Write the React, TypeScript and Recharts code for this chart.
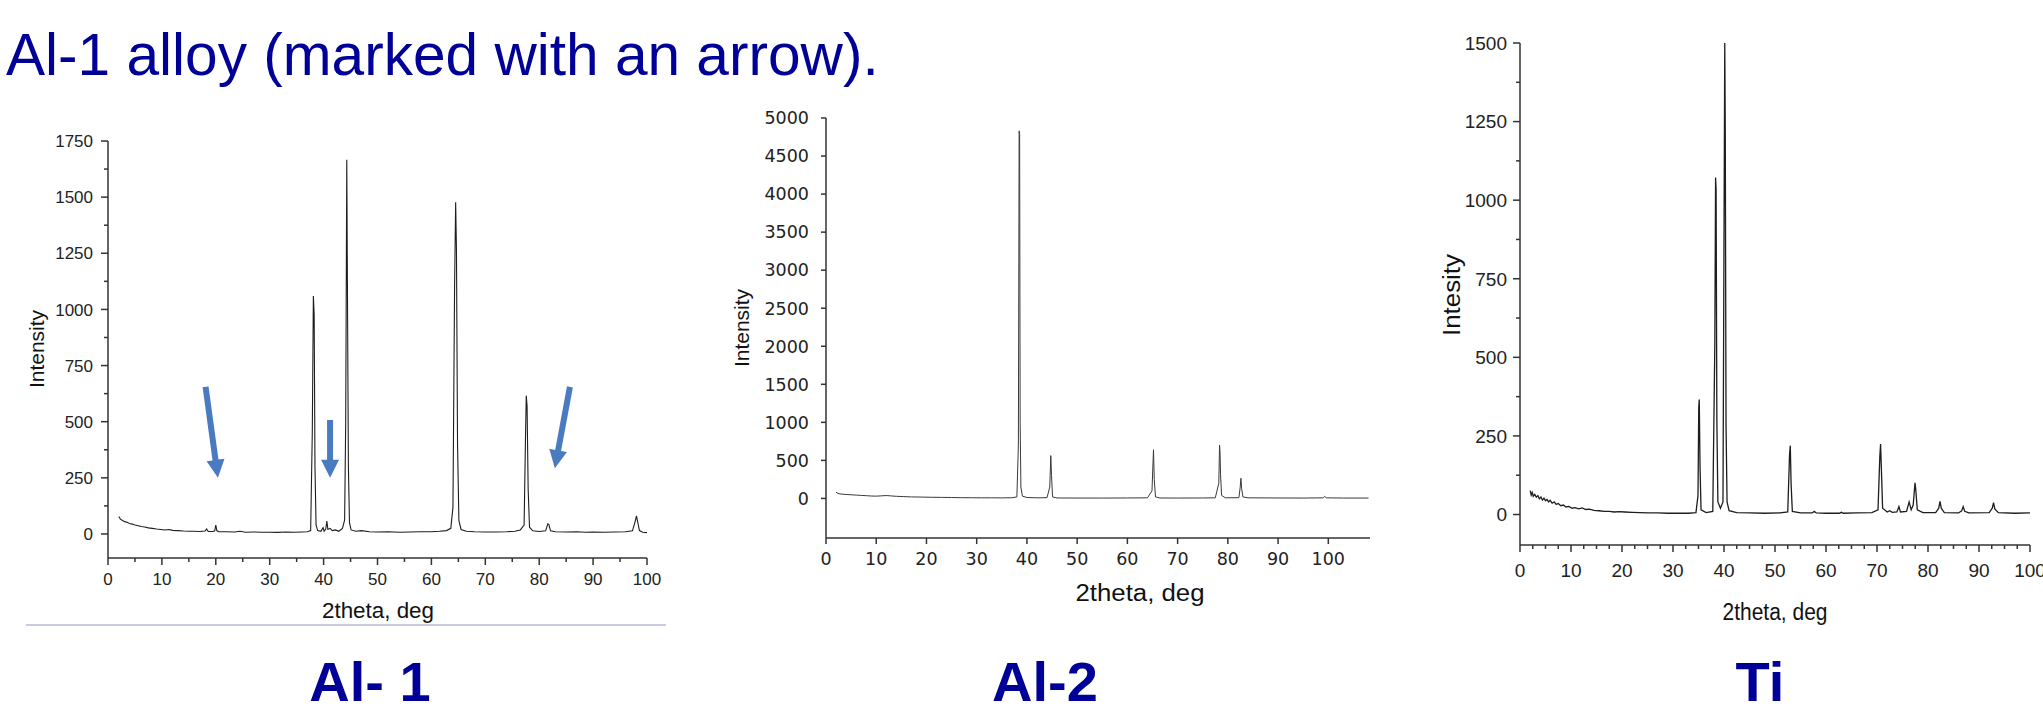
import { Line, LineChart, ReferenceLine, XAxis, YAxis } from "recharts";

// ---- data: [2theta, intensity] ----
const AL1_SCAN: [number, number][] = [
  [2.0, 78], [2.3, 66], [2.7, 60], [3.1, 55], [3.5, 52], [4.0, 47], [4.5, 44], [5.0, 40],
  [5.6, 37], [6.2, 33], [6.8, 31], [7.5, 27], [8.2, 25], [9.0, 22], [9.8, 20], [10.6, 18],
  [11.3, 20], [12.0, 16], [13.0, 15], [14.0, 13], [15.0, 12], [16.0, 12], [17.0, 11], [18.0, 13],
  [18.3, 22], [18.6, 11], [19.5, 11], [19.8, 14], [20.0, 40], [20.2, 14], [20.6, 10], [22.0, 10],
  [23.5, 9], [24.5, 12], [25.5, 8], [27.0, 9], [28.5, 8], [30.0, 8], [31.5, 7], [33.0, 9],
  [34.5, 8], [36.0, 9], [37.0, 10], [37.6, 15], [37.9, 450], [38.1, 1060], [38.25, 980], [38.4, 300],
  [38.6, 40], [38.9, 15], [39.5, 12], [39.9, 28], [40.1, 12], [40.4, 22], [40.6, 58], [40.8, 20],
  [41.2, 25], [41.6, 15], [42.2, 18], [42.8, 12], [43.5, 25], [43.9, 62], [44.1, 500], [44.3, 1666],
  [44.45, 970], [44.6, 300], [44.8, 50], [45.1, 18], [46.0, 12], [47.0, 15], [48.5, 10], [50.0, 9],
  [52.0, 10], [54.0, 8], [56.0, 9], [58.0, 10], [60.0, 10], [61.5, 12], [62.8, 15], [63.6, 25],
  [64.0, 120], [64.3, 1100], [64.5, 1477], [64.65, 1263], [64.85, 400], [65.1, 60], [65.5, 20], [66.5, 12],
  [68.0, 10], [70.0, 9], [72.0, 9], [74.0, 10], [75.5, 12], [76.5, 18], [77.2, 40], [77.45, 420],
  [77.6, 616], [77.75, 570], [77.95, 200], [78.2, 30], [78.8, 14], [80.0, 11], [81.2, 14], [81.6, 45],
  [81.8, 42], [82.1, 14], [83.0, 10], [85.0, 9], [87.0, 10], [88.5, 8], [90.0, 9], [92.0, 8],
  [94.0, 9], [96.0, 10], [97.3, 14], [97.8, 55], [98.05, 81], [98.3, 50], [98.6, 15], [99.2, 8],
  [100.0, 6],
];

const AL2_SCAN: [number, number][] = [
  [2.0, 82], [2.4, 65], [3.0, 58], [4.0, 52], [5.0, 48], [6.0, 44], [7.0, 40], [8.0, 36],
  [9.0, 32], [10.0, 30], [11.0, 34], [12.0, 38], [13.0, 33], [14.0, 28], [15.5, 24], [17.0, 20],
  [19.0, 18], [21.0, 15], [23.0, 14], [25.0, 12], [27.0, 10], [29.0, 9], [31.0, 8], [33.0, 8],
  [35.0, 7], [37.0, 9], [38.0, 20], [38.3, 700], [38.45, 4831], [38.55, 4780], [38.65, 1000], [38.8, 150],
  [39.1, 30], [40.0, 12], [42.0, 8], [44.0, 10], [44.55, 150], [44.75, 563], [44.9, 300], [45.1, 20],
  [46.0, 6], [50.0, 5], [55.0, 5], [60.0, 6], [64.0, 8], [64.9, 100], [65.1, 470], [65.2, 640],
  [65.35, 250], [65.6, 20], [66.5, 6], [70.0, 5], [75.0, 6], [77.5, 8], [78.2, 200], [78.35, 700],
  [78.45, 600], [78.55, 311], [78.75, 40], [79.5, 8], [82.2, 10], [82.45, 140], [82.6, 265], [82.75, 128],
  [83.0, 20], [84.0, 8], [90.0, 6], [95.0, 5], [99.0, 8], [99.3, 27], [99.6, 8], [103.0, 5],
  [108.0, 5],
];

const TI_SCAN: [number, number][] = [
  [2.0, 76], [2.2, 62], [2.4, 70], [2.6, 58], [2.9, 64], [3.2, 55], [3.5, 60], [3.8, 50],
  [4.1, 56], [4.4, 46], [4.7, 52], [5.0, 44], [5.3, 48], [5.6, 40], [5.9, 45], [6.3, 36],
  [6.7, 40], [7.1, 32], [7.5, 35], [8.0, 28], [8.5, 30], [9.0, 24], [9.6, 26], [10.2, 20],
  [10.8, 22], [11.5, 18], [12.2, 21], [12.9, 16], [13.6, 17], [14.5, 13], [15.5, 12], [16.5, 10],
  [17.5, 10], [18.5, 8], [19.5, 9], [20.5, 8], [22.0, 7], [23.5, 6], [25.0, 5], [27.0, 5],
  [29.0, 4], [31.0, 4], [33.0, 4], [34.5, 6], [34.9, 60], [35.05, 340], [35.15, 366], [35.3, 150],
  [35.5, 15], [36.5, 6], [37.8, 10], [38.2, 540], [38.35, 1072], [38.45, 1036], [38.6, 300], [38.8, 40],
  [39.3, 20], [39.8, 40], [40.05, 1087], [40.15, 1500], [40.25, 1219], [40.4, 284], [40.6, 40], [41.0, 12],
  [42.5, 6], [45.0, 5], [48.0, 4], [51.0, 5], [52.5, 8], [52.85, 190], [53.0, 219], [53.15, 100],
  [53.4, 10], [55.0, 5], [57.3, 5], [57.7, 10], [58.1, 5], [60.0, 4], [62.6, 4], [63.0, 7],
  [63.4, 4], [66.0, 5], [69.0, 6], [70.2, 15], [70.55, 183], [70.7, 224], [70.85, 150], [71.1, 20],
  [72.0, 8], [72.5, 12], [73.0, 7], [73.9, 8], [74.3, 25], [74.6, 8], [75.8, 10], [76.3, 40],
  [76.7, 15], [77.1, 30], [77.45, 101], [77.6, 80], [77.9, 15], [79.0, 6], [81.5, 6], [82.1, 20],
  [82.35, 42], [82.6, 20], [83.2, 6], [86.0, 5], [86.6, 12], [86.9, 25], [87.2, 10], [88.0, 5],
  [92.0, 6], [92.6, 20], [92.85, 38], [93.1, 18], [93.8, 6], [97.0, 4], [100.0, 5],
];

// tick values
const AL1_X_TICKS = [0, 5, 10, 15, 20, 25, 30, 35, 40, 45, 50, 55, 60, 65, 70, 75, 80, 85, 90, 95, 100];
const AL1_Y_TICKS = [0, 125, 250, 375, 500, 625, 750, 875, 1000, 1125, 1250, 1375, 1500, 1625, 1750];
const AL2_X_TICKS = [0, 10, 20, 30, 40, 50, 60, 70, 80, 90, 100];
const AL2_Y_TICKS = [0, 500, 1000, 1500, 2000, 2500, 3000, 3500, 4000, 4500, 5000];
const TI_X_TICKS = [
  0, 2.5, 5, 7.5, 10, 12.5, 15, 17.5, 20, 22.5, 25, 27.5, 30, 32.5, 35, 37.5, 40, 42.5, 45, 47.5, 50,
  52.5, 55, 57.5, 60, 62.5, 65, 67.5, 70, 72.5, 75, 77.5, 80, 82.5, 85, 87.5, 90, 92.5, 95, 97.5, 100,
];
const TI_Y_TICKS = [0, 125, 250, 375, 500, 625, 750, 875, 1000, 1125, 1250, 1375, 1500];

// arrows on the Al-1 pattern: [fromTheta, fromI, toTheta, toI]
const AL1_ARROWS: [number, number, number, number][] = [
  [18.1, 655, 20.4, 250],
  [41.2, 507, 41.2, 250],
  [85.7, 655, 82.9, 293],
];

const ARIAL = "'Liberation Sans', Arial, sans-serif";
const DEJAVU = "'DejaVu Sans', sans-serif";
const AXIS = "#333";
const NAVY = "#000099";
const ARROW_BLUE = "#4a7bc0";

type TickCfg = {
  major: number;
  majorLen: number;
  minorLen: number;
  gap: number;
  font: string;
  size: number;
};

const makeYTick = (c: TickCfg) => (props: any) => {
  const { x, y, payload } = props;
  const v = payload.value as number;
  const isMajor = Math.abs(v % c.major) < 1e-6;
  const len = isMajor ? c.majorLen : c.minorLen;
  return (
    <g>
      <line x1={x} x2={x - len} y1={y} y2={y} stroke={AXIS} strokeWidth={1.5} />
      {isMajor && (
        <text x={x - c.majorLen - c.gap} y={y} dy="0.36em" textAnchor="end" fontFamily={c.font} fontSize={c.size} fill="#222">
          {v}
        </text>
      )}
    </g>
  );
};

const makeXTick = (c: TickCfg) => (props: any) => {
  const { x, y, payload } = props;
  const v = payload.value as number;
  const isMajor = Math.abs(v % c.major) < 1e-6;
  const len = isMajor ? c.majorLen : c.minorLen;
  return (
    <g>
      <line x1={x} x2={x} y1={y} y2={y + len} stroke={AXIS} strokeWidth={1.5} />
      {isMajor && (
        <text x={x} y={y + c.majorLen + c.gap} dy="0.72em" textAnchor="middle" fontFamily={c.font} fontSize={c.size} fill="#222">
          {v}
        </text>
      )}
    </g>
  );
};

function ArrowShape(props: any) {
  const { x1, y1, x2, y2 } = props;
  if ([x1, y1, x2, y2].some((n) => typeof n !== "number")) return <g />;
  const dx = x2 - x1;
  const dy = y2 - y1;
  const len = Math.hypot(dx, dy) || 1;
  const ux = dx / len;
  const uy = dy / len;
  const px = -uy;
  const py = ux;
  const head = 18;
  const half = 9;
  const shaft = 3;
  const bx = x2 - ux * head;
  const by = y2 - uy * head;
  const pts = [
    [x1 + px * shaft, y1 + py * shaft],
    [bx + px * shaft, by + py * shaft],
    [bx + px * half, by + py * half],
    [x2, y2],
    [bx - px * half, by - py * half],
    [bx - px * shaft, by - py * shaft],
    [x1 - px * shaft, y1 - py * shaft],
  ]
    .map((p) => p.join(","))
    .join(" ");
  return <polygon points={pts} fill={ARROW_BLUE} />;
}

const toRows = (scan: [number, number][]) => scan.map(([t, i]) => ({ t, i }));

const axisLine = { stroke: AXIS, strokeWidth: 1.5 };

function Al1Chart() {
  const xt = makeXTick({ major: 10, majorLen: 7, minorLen: 4, gap: 8, font: ARIAL, size: 17 });
  const yt = makeYTick({ major: 250, majorLen: 7, minorLen: 4, gap: 8, font: ARIAL, size: 17 });
  return (
    <div style={{ position: "absolute", left: 38, top: 121 }}>
      <LineChart width={629} height={477} data={toRows(AL1_SCAN)} margin={{ top: 20, right: 20, bottom: 0, left: 0 }}>
        <XAxis type="number" dataKey="t" domain={[0, 100]} ticks={AL1_X_TICKS} interval={0} height={40}
          tickSize={0} tickMargin={0} tickLine={false} axisLine={axisLine} tick={xt} allowDataOverflow />
        <YAxis type="number" domain={[-107, 1750]} ticks={AL1_Y_TICKS} interval={0} width={70}
          tickSize={0} tickMargin={0} tickLine={false} axisLine={axisLine} tick={yt} allowDataOverflow />
        <Line type="linear" dataKey="i" stroke="#1e1e1e" strokeWidth={1.1} dot={false} isAnimationActive={false} />
        {AL1_ARROWS.map(([a, b, c, d], k) => (
          <ReferenceLine key={k} segment={[{ x: a, y: b }, { x: c, y: d }]} shape={(p: any) => <ArrowShape {...p} />} />
        ))}
      </LineChart>
    </div>
  );
}

function Al2Chart() {
  const xt = makeXTick({ major: 10, majorLen: 6, minorLen: 6, gap: 8, font: DEJAVU, size: 17.5 });
  const yt = makeYTick({ major: 500, majorLen: 5, minorLen: 5, gap: 12, font: DEJAVU, size: 17.5 });
  return (
    <div style={{ position: "absolute", left: 756, top: 98 }}>
      <LineChart width={634} height={480} data={toRows(AL2_SCAN)} margin={{ top: 20, right: 20, bottom: 0, left: 0 }}>
        <XAxis type="number" dataKey="t" domain={[0, 108.3]} ticks={AL2_X_TICKS} interval={0} height={40}
          tickSize={0} tickMargin={0} tickLine={false} axisLine={axisLine} tick={xt} allowDataOverflow />
        <YAxis type="number" domain={[-520, 5000]} ticks={AL2_Y_TICKS} interval={0} width={70}
          tickSize={0} tickMargin={0} tickLine={false} axisLine={axisLine} tick={yt} allowDataOverflow />
        <Line type="linear" dataKey="i" stroke="#3a3a3a" strokeWidth={1} dot={false} isAnimationActive={false} />
      </LineChart>
    </div>
  );
}

function TiChart() {
  const xt = makeXTick({ major: 10, majorLen: 7, minorLen: 4, gap: 11, font: ARIAL, size: 19 });
  const yt = makeYTick({ major: 250, majorLen: 7, minorLen: 4, gap: 6, font: ARIAL, size: 19 });
  return (
    <div style={{ position: "absolute", left: 1450, top: 23 }}>
      <LineChart width={593} height={562} data={toRows(TI_SCAN)} margin={{ top: 20, right: 13, bottom: 0, left: 0 }}>
        <XAxis type="number" dataKey="t" domain={[0, 100]} ticks={TI_X_TICKS} interval={0} height={40}
          tickSize={0} tickMargin={0} tickLine={false} axisLine={axisLine} tick={xt} allowDataOverflow />
        <YAxis type="number" domain={[-97, 1500]} ticks={TI_Y_TICKS} interval={0} width={70}
          tickSize={0} tickMargin={0} tickLine={false} axisLine={axisLine} tick={yt} allowDataOverflow />
        <Line type="linear" dataKey="i" stroke="#1e1e1e" strokeWidth={1.3} dot={false} isAnimationActive={false} />
      </LineChart>
    </div>
  );
}

export default function App() {
  return (
    <div style={{ position: "absolute", left: 0, top: 0, width: 2043, height: 706, background: "#fff", overflow: "hidden" }}>
      <Al1Chart />
      <Al2Chart />
      <TiChart />
      <div style={{ position: "absolute", left: 26, top: 624, width: 640, height: 2, background: "#c9cce0" }} />
      <svg width={2043} height={706} style={{ position: "absolute", left: 0, top: 0, pointerEvents: "none" }}>
        <text x={6} y={75} fontFamily={ARIAL} fontSize={58.6} fill={NAVY}>
          Al-1 alloy (marked with an arrow).
        </text>

        <text transform="translate(37,349) rotate(-90)" textAnchor="middle" dy="0.35em" fontFamily={ARIAL} fontSize={21} fill="#111">
          Intensity
        </text>
        <text x={378} y={618} textAnchor="middle" fontFamily={ARIAL} fontSize={22.4} fill="#111">
          2theta, deg
        </text>

        <text transform="translate(742,328) rotate(-90)" textAnchor="middle" dy="0.35em" fontFamily={ARIAL} fontSize={21} fill="#111">
          Intensity
        </text>
        <text x={1140} y={601} textAnchor="middle" fontFamily={ARIAL} fontSize={23} textLength={129} lengthAdjust="spacingAndGlyphs" fill="#111">
          2theta, deg
        </text>

        <text transform="translate(1452,295) rotate(-90)" textAnchor="middle" dy="0.35em" fontFamily={ARIAL} fontSize={23} textLength={82} lengthAdjust="spacingAndGlyphs" fill="#111">
          Intesity
        </text>
        <text x={1775} y={620} textAnchor="middle" fontFamily={ARIAL} fontSize={23} textLength={105} lengthAdjust="spacingAndGlyphs" fill="#111">
          2theta, deg
        </text>

        <text x={370} y={701} textAnchor="middle" fontFamily={ARIAL} fontWeight="bold" fontSize={56} fill={NAVY}>
          Al- 1
        </text>
        <text x={1045} y={701} textAnchor="middle" fontFamily={ARIAL} fontWeight="bold" fontSize={56} fill={NAVY}>
          Al-2
        </text>
        <text x={1760} y={701} textAnchor="middle" fontFamily={ARIAL} fontWeight="bold" fontSize={56} fill={NAVY}>
          Ti
        </text>
      </svg>
    </div>
  );
}
